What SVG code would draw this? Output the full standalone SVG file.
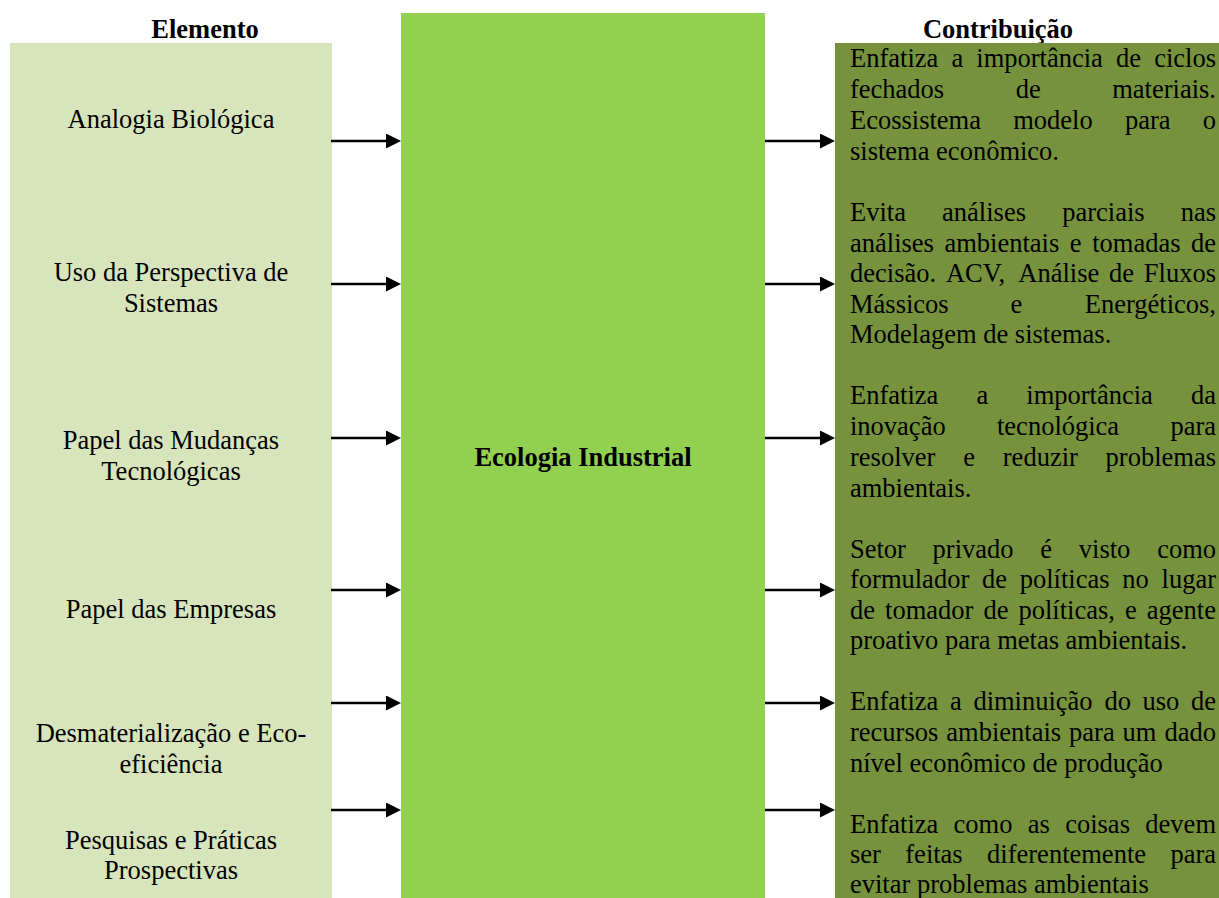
<svg xmlns="http://www.w3.org/2000/svg" width="1219" height="898" viewBox="0 0 1219 898">
  <style>
    .t { font-family: "Liberation Serif", "Times New Roman", serif; font-size: 26.5px; fill: #000; }
    .b { font-weight: bold; }
    .c { text-anchor: middle; }
    .e { text-anchor: end; }
    .conn line { stroke: #000; stroke-width: 2.5; }
  </style>
  <defs>
    <marker id="head" markerUnits="userSpaceOnUse" markerWidth="15" markerHeight="15" refX="2" refY="7.5" orient="auto">
      <path d="M0,0 L15,7.5 L0,15 z" fill="#000"/>
    </marker>
  </defs>
  <rect width="1219" height="898" fill="#fff"/>

  <!-- column headers -->
  <text class="t b c" x="205" y="38">Elemento</text>
  <text class="t b c" x="998" y="38">Contribuição</text>

  <!-- left column: elements -->
  <g id="elementos">
    <rect x="10" y="43" width="322" height="855" fill="#D8E4BC"/>
    <text class="t c" x="171" y="128">Analogia Biológica</text>
    <text class="t c" x="171" y="281">Uso da Perspectiva de</text>
    <text class="t c" x="171" y="312">Sistemas</text>
    <text class="t c" x="171" y="449">Papel das Mudanças</text>
    <text class="t c" x="171" y="480">Tecnológicas</text>
    <text class="t c" x="171" y="618">Papel das Empresas</text>
    <text class="t c" x="171" y="742">Desmaterialização e Eco-</text>
    <text class="t c" x="171" y="773">eficiência</text>
    <text class="t c" x="171" y="849">Pesquisas e Práticas</text>
    <text class="t c" x="171" y="879">Prospectivas</text>
  </g>

  <!-- central node -->
  <g id="ecologia-industrial">
    <rect x="401" y="13" width="364" height="885" fill="#92D050"/>
    <text class="t b c" x="583" y="466">Ecologia Industrial</text>
  </g>

  <!-- right column: contributions (justified lines) -->
  <g id="contribuicoes">
    <rect x="835" y="43" width="384" height="855" fill="#76923C"/>

    <text class="t" y="67"><tspan x="850">Enfatiza</tspan><tspan x="951.4">a</tspan><tspan x="976.3">importância</tspan><tspan x="1116">de</tspan><tspan x="1216" class="e">ciclos</tspan></text>
    <text class="t" y="98"><tspan x="850">fechados</tspan><tspan x="1015.7">de</tspan><tspan x="1216" class="e">materiais.</tspan></text>
    <text class="t" y="129"><tspan x="850">Ecossistema</tspan><tspan x="1013.2">modelo</tspan><tspan x="1124.9">para</tspan><tspan x="1216" class="e">o</tspan></text>
    <text class="t" x="850" y="160">sistema econômico.</text>

    <text class="t" y="221"><tspan x="850">Evita</tspan><tspan x="942.1">análises</tspan><tspan x="1062.2">parciais</tspan><tspan x="1216" class="e">nas</tspan></text>
    <text class="t" y="252"><tspan x="850">análises</tspan><tspan x="944.5">ambientais</tspan><tspan x="1069.8">e</tspan><tspan x="1092.2">tomadas</tspan><tspan x="1216" class="e">de</tspan></text>
    <text class="t" y="282"><tspan x="850">decisão.</tspan><tspan x="945.9">ACV,</tspan><tspan x="1018.3">Análise</tspan><tspan x="1109.1">de</tspan><tspan x="1216" class="e">Fluxos</tspan></text>
    <text class="t" y="313"><tspan x="850">Mássicos</tspan><tspan x="1010.6">e</tspan><tspan x="1216" class="e">Energéticos,</tspan></text>
    <text class="t" x="850" y="343">Modelagem de sistemas.</text>

    <text class="t" y="404"><tspan x="850">Enfatiza</tspan><tspan x="976.4">a</tspan><tspan x="1026.3">importância</tspan><tspan x="1216" class="e">da</tspan></text>
    <text class="t" y="435"><tspan x="850">inovação</tspan><tspan x="997">tecnológica</tspan><tspan x="1216" class="e">para</tspan></text>
    <text class="t" y="466"><tspan x="850">resolver</tspan><tspan x="963.2">e</tspan><tspan x="1002.8">reduzir</tspan><tspan x="1216" class="e">problemas</tspan></text>
    <text class="t" x="850" y="497">ambientais.</text>

    <text class="t" y="558"><tspan x="850">Setor</tspan><tspan x="932.6">privado</tspan><tspan x="1040.3">é</tspan><tspan x="1078.8">visto</tspan><tspan x="1216" class="e">como</tspan></text>
    <text class="t" y="588"><tspan x="850">formulador</tspan><tspan x="982">de</tspan><tspan x="1019.7">políticas</tspan><tspan x="1122.3">no</tspan><tspan x="1216" class="e">lugar</tspan></text>
    <text class="t" y="619"><tspan x="850">de</tspan><tspan x="885.1">tomador</tspan><tspan x="983.4">de</tspan><tspan x="1018.5">políticas,</tspan><tspan x="1124.9">e</tspan><tspan x="1216" class="e">agente</tspan></text>
    <text class="t" x="850" y="649">proativo para metas ambientais.</text>

    <text class="t" y="710"><tspan x="850">Enfatiza</tspan><tspan x="950">a</tspan><tspan x="973.4">diminuição</tspan><tspan x="1104.4">do</tspan><tspan x="1142.5">uso</tspan><tspan x="1216" class="e">de</tspan></text>
    <text class="t" y="741"><tspan x="850">recursos</tspan><tspan x="946.3">ambientais</tspan><tspan x="1069.1">para</tspan><tspan x="1122.6">um</tspan><tspan x="1216" class="e">dado</tspan></text>
    <text class="t" x="850" y="772">nível econômico de produção</text>

    <text class="t" y="833"><tspan x="850">Enfatiza</tspan><tspan x="953.6">como</tspan><tspan x="1027.8">as</tspan><tspan x="1065.2">coisas</tspan><tspan x="1216" class="e">devem</tspan></text>
    <text class="t" y="863"><tspan x="850">ser</tspan><tspan x="905.3">feitas</tspan><tspan x="987.1">diferentemente</tspan><tspan x="1216" class="e">para</tspan></text>
    <text class="t" x="850" y="893">evitar problemas ambientais</text>
  </g>

  <!-- connectors: elements -> Ecologia Industrial -> contributions -->
  <g id="conectores" class="conn">
    <line x1="331" y1="141" x2="388" y2="141" marker-end="url(#head)"/>
    <line x1="331" y1="284" x2="388" y2="284" marker-end="url(#head)"/>
    <line x1="331" y1="438" x2="388" y2="438" marker-end="url(#head)"/>
    <line x1="331" y1="590" x2="388" y2="590" marker-end="url(#head)"/>
    <line x1="331" y1="703" x2="388" y2="703" marker-end="url(#head)"/>
    <line x1="331" y1="810" x2="388" y2="810" marker-end="url(#head)"/>

    <line x1="765" y1="141" x2="822" y2="141" marker-end="url(#head)"/>
    <line x1="765" y1="284" x2="822" y2="284" marker-end="url(#head)"/>
    <line x1="765" y1="438" x2="822" y2="438" marker-end="url(#head)"/>
    <line x1="765" y1="590" x2="822" y2="590" marker-end="url(#head)"/>
    <line x1="765" y1="703" x2="822" y2="703" marker-end="url(#head)"/>
    <line x1="765" y1="810" x2="822" y2="810" marker-end="url(#head)"/>
  </g>
</svg>
